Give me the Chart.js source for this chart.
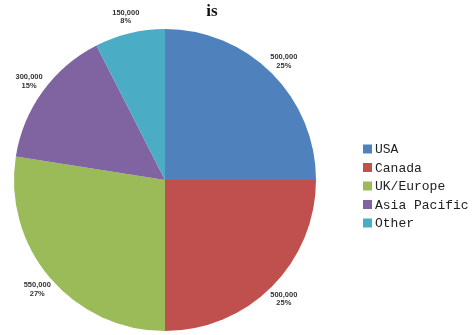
<!DOCTYPE html>
<html>
<head>
<meta charset="utf-8">
<script src="https://cdn.jsdelivr.net/npm/chart.js@4"></script>
<style>
  html, body { margin: 0; padding: 0; background: #fff; }
  #wrap { width: 473px; height: 335px; }
</style>
</head>
<body>
<div id="wrap"><canvas id="pieChart" width="473" height="335"></canvas></div>
<script>
// chart data
var regions = ['USA', 'Canada', 'UK/Europe', 'Asia Pacific', 'Other'];
var sales = [500000, 500000, 550000, 300000, 150000];
var percentLabels = ['25%', '25%', '27%', '15%', '8%'];
var sliceColors = ['#4F81BD', '#C0504D', '#9BBB59', '#8064A2', '#4BACC6'];
var chartTitle = 'is';

// outside labels + legend + title drawn by hand
var decorPlugin = {
  id: 'decor',
  afterDraw: function(chart) {
    var ctx = chart.ctx;
    var arcs = chart.getDatasetMeta(0).data;
    ctx.save();

    // slice labels
    ctx.fillStyle = '#333';
    ctx.font = 'bold 7.5px "Liberation Sans", Arial, sans-serif';
    ctx.textAlign = 'center';
    ctx.textBaseline = 'middle';
    arcs.forEach(function(arc, i) {
      var mid = (arc.startAngle + arc.endAngle) / 2;
      var r = arc.outerRadius + 17;
      var x = arc.x + Math.cos(mid) * r;
      var y = arc.y + Math.sin(mid) * r;
      ctx.fillText(sales[i].toLocaleString('en-US'), x, y - 4);
      ctx.fillText(percentLabels[i], x, y + 4.5);
    });

    // legend
    ctx.font = '13px "Liberation Mono", "Courier New", monospace';
    ctx.textAlign = 'left';
    regions.forEach(function(name, i) {
      var y = 149 + i * 18.5;
      ctx.fillStyle = sliceColors[i];
      ctx.fillRect(363, y - 4.5, 9, 9);
      ctx.fillStyle = '#222';
      ctx.fillText(name, 375, y + 1);
    });

    // title
    ctx.font = 'bold 17px "Liberation Serif", "DejaVu Serif", serif';
    ctx.textAlign = 'center';
    ctx.fillStyle = '#111';
    ctx.fillText(chartTitle, 212, 12);
    ctx.restore();
  }
};

new Chart(document.getElementById('pieChart'), {
  type: 'pie',
  data: {
    labels: regions,
    datasets: [{
      data: sales,
      backgroundColor: sliceColors,
      borderWidth: 0
    }]
  },
  options: {
    responsive: false,
    animation: false,
    layout: { padding: { left: 14, top: 29, right: 157, bottom: 4 } },
    plugins: {
      legend: { display: false },
      tooltip: { enabled: false },
      title: { display: false }
    }
  },
  plugins: [decorPlugin]
});
</script>
</body>
</html>
